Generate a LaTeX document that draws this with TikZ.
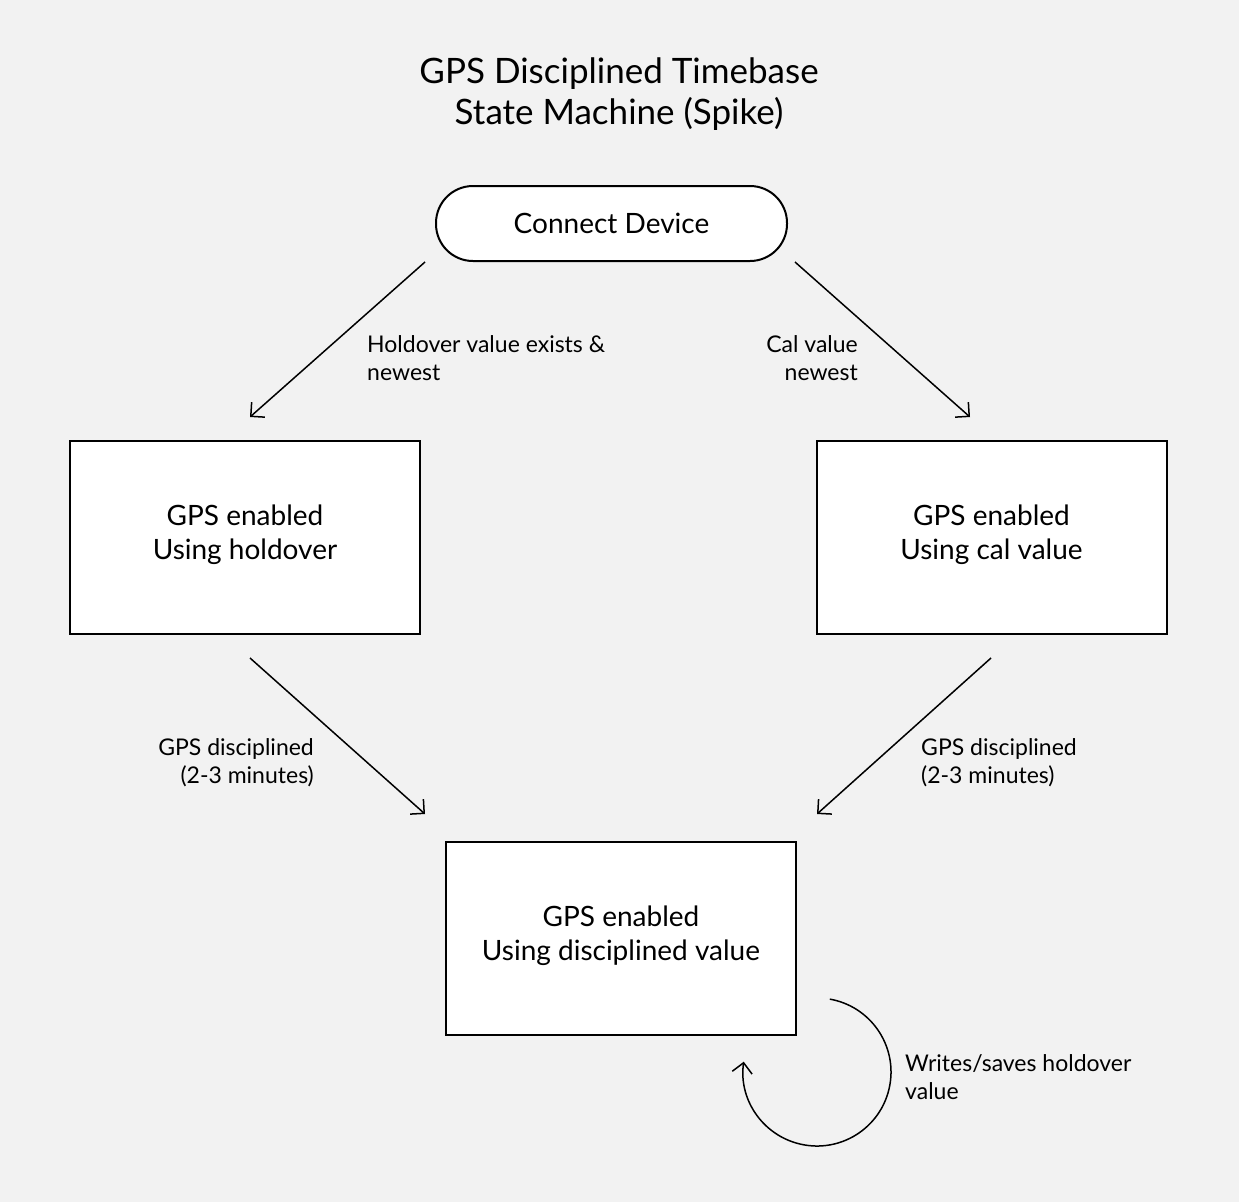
\documentclass[tikz,border=0pt]{standalone}
\usepackage{fontspec}
\setmainfont{Lato}
\usetikzlibrary{arrows.meta}
\begin{document}
\begin{tikzpicture}[x=1pt,y=-1pt,
  box/.style={draw=black,fill=white,line width=2pt,minimum width=350pt,minimum height=193pt,inner sep=0pt,font=\fontsize{28}{34}\selectfont,align=center,text depth=11pt},
  term/.style={draw=black,fill=white,line width=2pt,rounded corners=37pt,minimum width=351pt,minimum height=75pt,inner sep=0pt,font=\fontsize{28}{34}\selectfont},
  conn/.style={line width=1.5pt,-{Straight Barb[length=10pt,width=20pt,line width=1.5pt]}},
  lbl/.style={font=\fontsize{23}{28}\selectfont,inner sep=0pt}]
\fill[fill={rgb,255:red,242;green,242;blue,242}] (0,0) rectangle (1239,1202);
\useasboundingbox (0,0) rectangle (1239,1202);
\node[font=\fontsize{35}{41}\selectfont,align=center] (title) at (619,94) {GPS Disciplined Timebase\\State Machine (Spike)};
\node[term] (start) at (611.5,223.5) {Connect Device};
\node[box] (hold) at (245,537.5) {GPS enabled\\Using holdover};
\node[box] (cal) at (991.5,537.5) {GPS enabled\\Using cal value};
\node[box] (disc) at (621,938.5) {GPS enabled\\Using disciplined value};
\coordinate (a1) at (425,262); \coordinate (a2) at (250,417);
\coordinate (b1) at (795,262); \coordinate (b2) at (970,417);
\coordinate (c1) at (250,658); \coordinate (c2) at (425,814);
\coordinate (d1) at (991,658); \coordinate (d2) at (817,814);
\draw[conn] (a1) -- (a2);
\draw[conn] (b1) -- (b2);
\draw[conn] (c1) -- (c2);
\draw[conn] (d1) -- (d2);
\node[lbl,anchor=north west,align=left] (l1) at (367,335) {Holdover value exists \&\\newest};
\node[lbl,anchor=north east,align=right] (l2) at (858,335) {Cal value\\newest};
\node[lbl,anchor=north east,align=right] (l3) at (314,738) {GPS disciplined\\(2-3 minutes)};
\node[lbl,anchor=north west,align=left] (l4) at (921,738) {GPS disciplined\\(2-3 minutes)};
\coordinate (loopc) at (817,1072);
\draw[conn] ([shift={(80:74pt)}]loopc) arc[start angle=80,end angle=-188,radius=74pt];
\node[lbl,anchor=north west,align=left] (l5) at (905,1054) {Writes/saves holdover\\value};
\end{tikzpicture}
\end{document}
